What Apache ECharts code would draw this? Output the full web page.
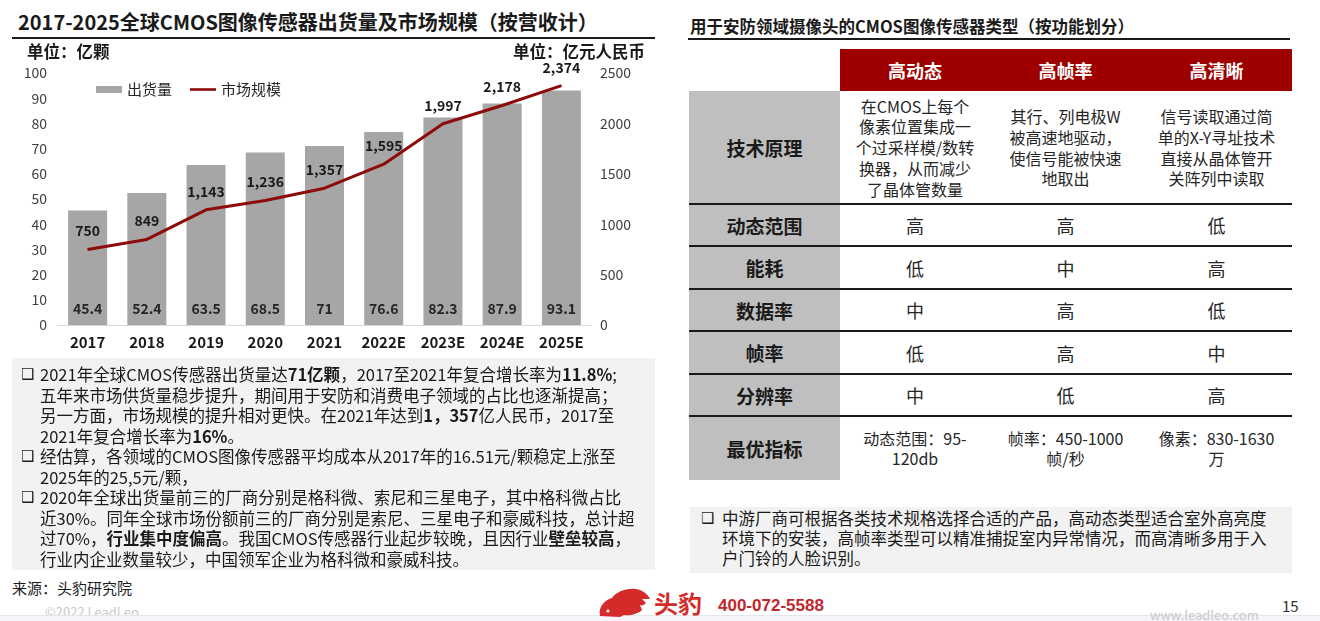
<!DOCTYPE html>
<html>
<head>
<meta charset="utf-8">
<script src="https://cdn.jsdelivr.net/npm/echarts@6/dist/echarts.min.js"></script>
<style>
body{margin:0;width:1320px;height:621px;position:relative;overflow:hidden;background:#fff;
  font-family:"Liberation Sans Narrow","Noto Sans CJK SC",sans-serif;color:#1a1a1a}
.abs{position:absolute;white-space:nowrap}
.rule{position:absolute;height:2px;background:#1a1a1a}
.box{position:absolute;background:#f2f2f2}
.box .ln{position:absolute;white-space:nowrap;font-size:16.5px;line-height:20px;color:#1a1a1a}
.bl{position:absolute;font-family:"DejaVu Sans";font-size:15px;line-height:18px;color:#1a1a1a}
.cell{position:absolute;display:flex;align-items:center;justify-content:center;text-align:center;white-space:nowrap}
.lab{background:#bfbfbf;font-weight:bold;font-size:19px;color:#1a1a1a}
.hd{background:#9e0000;color:#fff;font-weight:bold;font-size:18px}
.v{font-size:18px;color:#262626}
.t{font-size:16px;line-height:20.7px;color:#262626}
</style>
</head>
<body>
<div class="abs" style="left:18px;top:8px;font-size:20px;font-weight:bold;line-height:28px">2017-2025全球CMOS图像传感器出货量及市场规模（按营收计）</div>
<div class="rule" style="left:12px;top:37px;width:643px"></div>
<div id="chart" style="position:absolute;left:0;top:0;width:680px;height:360px"></div>

<div class="box" style="left:12px;top:358px;width:643px;height:212px">
  <span class="bl" style="left:9px;top:7px">❑</span>
  <div class="ln" style="left:28px;top:6px">2021年全球CMOS传感器出货量达<b>71亿颗</b>，2017至2021年复合增长率为<b>11.8%</b>;</div>
  <div class="ln" style="left:28px;top:26.5px">五年来市场供货量稳步提升，期间用于安防和消费电子领域的占比也逐渐提高；</div>
  <div class="ln" style="left:28px;top:47px">另一方面，市场规模的提升相对更快。在2021年达到<b>1，357</b>亿人民币，2017至</div>
  <div class="ln" style="left:28px;top:67.5px">2021年复合增长率为<b>16%</b>。</div>
  <span class="bl" style="left:9px;top:89px">❑</span>
  <div class="ln" style="left:28px;top:88px">经估算，各领域的CMOS图像传感器平均成本从2017年的16.51元/颗稳定上涨至</div>
  <div class="ln" style="left:28px;top:108.5px">2025年的25,5元/颗，</div>
  <span class="bl" style="left:9px;top:130px">❑</span>
  <div class="ln" style="left:28px;top:129px">2020年全球出货量前三的厂商分别是格科微、索尼和三星电子，其中格科微占比</div>
  <div class="ln" style="left:28px;top:149.5px">近30%。同年全球市场份额前三的厂商分别是索尼、三星电子和豪威科技，总计超</div>
  <div class="ln" style="left:28px;top:170px">过70%，<b>行业集中度偏高</b>。我国CMOS传感器行业起步较晚，且因行业<b>壁垒较高</b>，</div>
  <div class="ln" style="left:28px;top:190.5px">行业内企业数量较少，中国领军企业为格科微和豪威科技。</div>
</div>
<div class="abs" style="left:12px;top:578px;font-size:15px;line-height:20px;color:#1a1a1a">来源：头豹研究院</div>
<div class="abs" style="left:45px;top:603px;font-size:13px;line-height:18px;color:#c8c8c8">©2022 LeadLeo</div>

<div class="abs" style="left:690px;top:13px;font-size:16.5px;font-weight:bold;line-height:26px">用于安防领域摄像头的CMOS图像传感器类型（按功能划分）</div>
<div class="rule" style="left:688px;top:38px;width:602px"></div>

<!-- table -->
<div class="cell hd" style="left:840px;top:49px;width:150px;height:42px">高动态</div>
<div class="cell hd" style="left:990px;top:49px;width:151px;height:42px">高帧率</div>
<div class="cell hd" style="left:1141px;top:49px;width:151px;height:42px">高清晰</div>

<div class="cell lab" style="left:689px;top:91px;width:151px;height:113px">技术原理</div>
<div class="cell t" style="left:840px;top:91px;width:150px;height:113px">在CMOS上每个<br>像素位置集成一<br>个过采样模/数转<br>换器，从而减少<br>了晶体管数量</div>
<div class="cell t" style="left:990px;top:91px;width:151px;height:113px">其行、列电极W<br>被高速地驱动，<br>使信号能被快速<br>地取出</div>
<div class="cell t" style="left:1141px;top:91px;width:151px;height:113px">信号读取通过简<br>单的X-Y寻址技术<br>直接从晶体管开<br>关阵列中读取</div>

<div class="cell lab" style="left:689px;top:204px;width:151px;height:42px">动态范围</div>
<div class="cell v" style="left:840px;top:204px;width:150px;height:42px">高</div>
<div class="cell v" style="left:990px;top:204px;width:151px;height:42px">高</div>
<div class="cell v" style="left:1141px;top:204px;width:151px;height:42px">低</div>

<div class="cell lab" style="left:689px;top:246px;width:151px;height:43px">能耗</div>
<div class="cell v" style="left:840px;top:246px;width:150px;height:43px">低</div>
<div class="cell v" style="left:990px;top:246px;width:151px;height:43px">中</div>
<div class="cell v" style="left:1141px;top:246px;width:151px;height:43px">高</div>

<div class="cell lab" style="left:689px;top:289px;width:151px;height:42px">数据率</div>
<div class="cell v" style="left:840px;top:289px;width:150px;height:42px">中</div>
<div class="cell v" style="left:990px;top:289px;width:151px;height:42px">高</div>
<div class="cell v" style="left:1141px;top:289px;width:151px;height:42px">低</div>

<div class="cell lab" style="left:689px;top:331px;width:151px;height:43px">帧率</div>
<div class="cell v" style="left:840px;top:331px;width:150px;height:43px">低</div>
<div class="cell v" style="left:990px;top:331px;width:151px;height:43px">高</div>
<div class="cell v" style="left:1141px;top:331px;width:151px;height:43px">中</div>

<div class="cell lab" style="left:689px;top:374px;width:151px;height:42px">分辨率</div>
<div class="cell v" style="left:840px;top:374px;width:150px;height:42px">中</div>
<div class="cell v" style="left:990px;top:374px;width:151px;height:42px">低</div>
<div class="cell v" style="left:1141px;top:374px;width:151px;height:42px">高</div>

<div class="cell lab" style="left:689px;top:416px;width:151px;height:64px">最优指标</div>
<div class="cell t" style="left:840px;top:416px;width:150px;height:64px;line-height:20px">动态范围：95-<br>120db</div>
<div class="cell t" style="left:990px;top:416px;width:151px;height:64px;line-height:20px">帧率：450-1000<br>帧/秒</div>
<div class="cell t" style="left:1141px;top:416px;width:151px;height:64px;line-height:20px">像素：830-1630<br>万</div>

<div class="rule" style="left:689px;top:203px;width:603px"></div>
<div class="rule" style="left:689px;top:245px;width:603px"></div>
<div class="rule" style="left:689px;top:288px;width:603px"></div>
<div class="rule" style="left:689px;top:330px;width:603px"></div>
<div class="rule" style="left:689px;top:373px;width:603px"></div>
<div class="rule" style="left:689px;top:415px;width:603px"></div>

<div class="box" style="left:690px;top:507px;width:602px;height:66px">
  <span class="bl" style="left:11px;top:2px">❑</span>
  <div class="ln" style="left:32px;top:1px">中游厂商可根据各类技术规格选择合适的产品，高动态类型适合室外高亮度</div>
  <div class="ln" style="left:32px;top:21px">环境下的安装，高帧率类型可以精准捕捉室内异常情况，而高清晰多用于入</div>
  <div class="ln" style="left:32px;top:41px">户门铃的人脸识别。</div>
</div>

<!-- footer -->
<div style="position:absolute;left:0;top:615px;width:1320px;height:6px;background:#f3f5f8;border-top:1px solid #e3e6ea"></div>
<svg style="position:absolute;left:596px;top:586px" width="56" height="32" viewBox="0 0 56 32">
  <path d="M4,30 C2,22 8,14 16,12 C20,6 30,2 40,3 C46,4 52,8 54,13 L46,13 L50,17 C48,19 46,20 44,19 L46,24 C42,28 34,30 28,29 L24,31 Z" fill="#d42a2a"/>
  <circle cx="12" cy="25" r="1.6" fill="#fff"/>
</svg>
<div class="abs" style="left:654px;top:588px;font-size:24px;font-weight:bold;line-height:30px;color:#d42a2a">头豹</div>
<div class="abs" style="left:718px;top:595px;font-size:17px;font-weight:bold;line-height:22px;color:#c1272d;font-family:'Liberation Sans','Noto Sans',sans-serif">400-072-5588</div>
<div class="abs" style="left:1150px;top:606px;font-size:13px;line-height:18px;color:#c8c8c8">www.leadleo.com</div>
<div class="abs" style="left:1282px;top:596px;font-size:15px;line-height:20px;color:#333">15</div>

<script>
const years = ['2017', '2018', '2019', '2020', '2021', '2022E', '2023E', '2024E', '2025E'];
const shipments = [45.4, 52.4, 63.5, 68.5, 71, 76.6, 82.3, 87.9, 93.1];   // 亿颗
const marketSize = [750, 849, 1143, 1236, 1357, 1595, 1997, 2178, 2374]; // 亿元人民币
const leftAxis = { min: 0, max: 100, interval: 10 };
const rightAxis = { min: 0, max: 2500, interval: 500 };

const numFont = '"Liberation Sans Narrow","Noto Sans CJK SC",sans-serif';

function thousands(v) {
	return String(v).replace(/\B(?=(\d{3})+(?!\d))/g, ',');
}

let myChart = echarts.init(document.getElementById('chart'));
myChart.setOption({
	animation: false,
	textStyle: { fontFamily: numFont },
	grid: {
		left: 58,
		top: 73,
		width: 533,
		height: 252,
		containLabel: false
	},
	legend: {
		left: 96,
		top: 82,
		padding: 0,
		itemWidth: 26,
		itemHeight: 7,
		itemGap: 18,
		textStyle: { fontSize: 15, color: '#262626', fontFamily: numFont },
		data: [
			{ name: '出货量', icon: 'rect' },
			{ name: '市场规模', icon: 'path://M0,0H30V3H0Z' }
		]
	},
	xAxis: {
		type: 'category',
		data: years,
		axisLine: { show: true, lineStyle: { color: '#d9d9d9', width: 1 } },
		axisTick: { show: false },
		axisLabel: { interval: 0, color: '#1a1a1a', fontSize: 15, fontWeight: 'bold', margin: 10 }
	},
	yAxis: [
		{
			type: 'value',
			min: leftAxis.min,
			max: leftAxis.max,
			interval: leftAxis.interval,
			name: '单位：亿颗',
			nameLocation: 'end',
			nameGap: 13,
			nameTextStyle: { align: 'left', padding: [0, 0, 0, -31], fontSize: 16.5, fontWeight: 'bold', color: '#1a1a1a' },
			axisLine: { show: false },
			axisTick: { show: false },
			splitLine: { show: false },
			axisLabel: { color: '#404040', fontSize: 14, margin: 11 }
		},
		{
			type: 'value',
			min: rightAxis.min,
			max: rightAxis.max,
			interval: rightAxis.interval,
			name: '单位：亿元人民币',
			nameLocation: 'end',
			nameGap: 13,
			nameTextStyle: { align: 'right', padding: [0, -54, 0, 0], fontSize: 16.5, fontWeight: 'bold', color: '#1a1a1a' },
			axisLine: { show: false },
			axisTick: { show: false },
			splitLine: { show: false },
			axisLabel: { color: '#404040', fontSize: 14, margin: 9, formatter: v => String(v) }
		}
	],
	series: [
		{
			name: '出货量',
			type: 'bar',
			yAxisIndex: 0,
			barWidth: 39,
			itemStyle: { color: '#a6a6a6' },
			label: {
				show: true,
				position: 'insideBottom',
				distance: 9,
				color: '#262626',
				fontSize: 14,
				fontWeight: 'bold'
			},
			data: shipments
		},
		{
			name: '市场规模',
			type: 'line',
			yAxisIndex: 1,
			symbol: 'circle',
			symbolSize: 1,
			itemStyle: { color: '#8e0b0b' },
			lineStyle: { color: '#8e0b0b', width: 3 },
			label: {
				show: true,
				position: 'top',
				distance: 11,
				color: '#1a1a1a',
				fontSize: 14,
				fontWeight: 'bold',
				formatter: p => thousands(p.value)
			},
			data: marketSize
		}
	]
});
</script>
</body>
</html>
